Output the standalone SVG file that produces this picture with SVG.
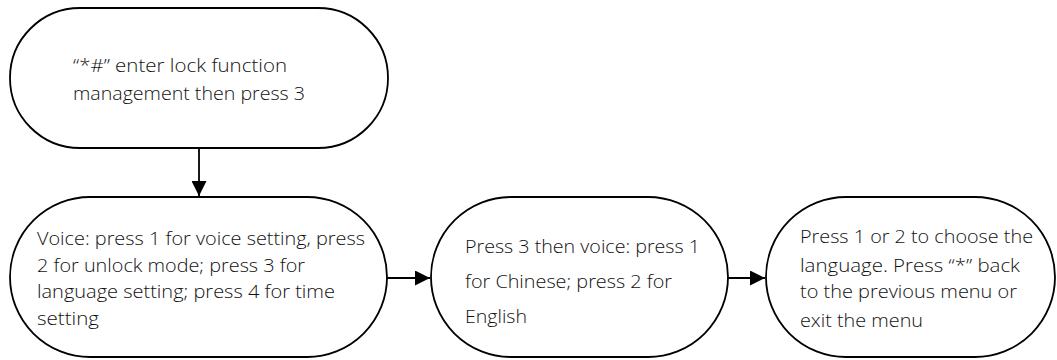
<svg xmlns="http://www.w3.org/2000/svg" width="1057" height="360" viewBox="0 0 1057 360">
<style>
.node{fill:#fff;stroke:#000;stroke-width:1.8}
.t{font-family:"Open Sans","Liberation Sans",Arial,sans-serif;font-weight:300;font-size:19px;fill:#111}
.c{stroke:#000;stroke-width:1.8;fill:none}
</style>
<defs>
<marker id="ah" viewBox="0 0 15 15" refX="15" refY="7.5" markerWidth="15" markerHeight="15" markerUnits="userSpaceOnUse" orient="auto">
<path d="M0,0 L15,7.5 L0,15 z" fill="#000"/>
</marker>
</defs>
<rect width="1057" height="360" fill="#fff"/>
<g id="connectors">
<line class="c" x1="199" y1="148" x2="199" y2="196" marker-end="url(#ah)"/>
<line class="c" x1="387" y1="278" x2="430" y2="278" marker-end="url(#ah)"/>
<line class="c" x1="728" y1="278" x2="765" y2="278" marker-end="url(#ah)"/>
</g>
<g id="node1">
<rect class="node" x="10" y="8" width="378" height="140" rx="70" ry="70"/>
<text class="t" x="73" y="72" textLength="214" lengthAdjust="spacingAndGlyphs">“*#” enter lock function</text>
<text class="t" x="73" y="100" textLength="232" lengthAdjust="spacingAndGlyphs">management then press 3</text>
</g>
<g id="node2">
<rect class="node" x="10" y="197" width="377" height="160" rx="80" ry="80"/>
<text class="t" x="37" y="245" textLength="328" lengthAdjust="spacingAndGlyphs">Voice: press 1 for voice setting, press</text>
<text class="t" x="37" y="272" textLength="268" lengthAdjust="spacingAndGlyphs">2 for unlock mode; press 3 for</text>
<text class="t" x="37" y="298" textLength="298" lengthAdjust="spacingAndGlyphs">language setting; press 4 for time</text>
<text class="t" x="37" y="325" textLength="62" lengthAdjust="spacingAndGlyphs">setting</text>
</g>
<g id="node3">
<rect class="node" x="431" y="197" width="297" height="160" rx="80" ry="80"/>
<text class="t" x="465" y="253" textLength="235" lengthAdjust="spacingAndGlyphs">Press 3 then voice: press 1</text>
<text class="t" x="465" y="288" textLength="207" lengthAdjust="spacingAndGlyphs">for Chinese; press 2 for</text>
<text class="t" x="465" y="323" textLength="62" lengthAdjust="spacingAndGlyphs">English</text>
</g>
<g id="node4">
<rect class="node" x="766" y="197" width="289" height="160" rx="80" ry="80"/>
<text class="t" x="800" y="243" textLength="233" lengthAdjust="spacingAndGlyphs">Press 1 or 2 to choose the</text>
<text class="t" x="800" y="272" textLength="220" lengthAdjust="spacingAndGlyphs">language. Press “*” back</text>
<text class="t" x="800" y="298" textLength="217" lengthAdjust="spacingAndGlyphs">to the previous menu or</text>
<text class="t" x="800" y="327" textLength="123" lengthAdjust="spacingAndGlyphs">exit the menu</text>
</g>
</svg>
